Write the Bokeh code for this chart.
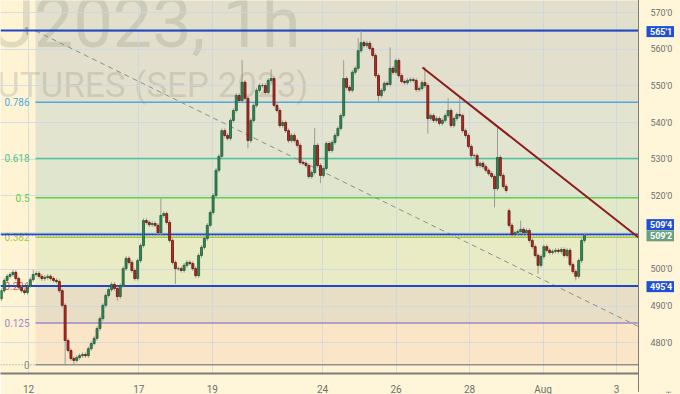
from bokeh.plotting import figure
from bokeh.models import Range1d, FixedTicker
from bokeh.embed import file_html
from bokeh.resources import INLINE
from bokeh.core.properties import value

# ---------------- data ----------------
day_ticks = [0, 3, 5, 8, 10, 12, 14, 16]
day_labels = ["12", "17", "19", "24", "26", "28", "Aug", "3"]

price_ticks = [480, 490, 500, 520, 530, 540, 550, 560, 570]
price_tick_labels = ["480'0", "490'0", "500'0", "520'0", "530'0", "540'0", "550'0", "560'0", "570'0"]
grid_prices = [480, 490, 500, 510, 520, 530, 540, 550, 560, 570]

closes = [
    494.2, 497.0, 498.1, 498.6, 499.2, 497.5, 495.1, 494.2, 493.7, 495.6,
    497.2, 498.6, 498.9, 498.1, 497.5, 497.8, 498.1, 497.5, 497.0, 496.7,
    494.2, 490.2, 480.6, 477.9, 475.7, 475.2, 476.0, 476.5, 476.8, 476.5,
    478.4, 479.8, 481.2, 483.9, 486.6, 490.2, 492.9, 494.5, 495.9, 494.8,
    492.6, 495.6, 500.2, 503.0, 501.9, 499.7, 497.5, 502.4, 506.5, 513.3,
    512.8, 512.2, 512.5, 512.0, 510.0, 514.7, 515.2, 512.8, 507.9, 501.9,
    500.2, 500.2, 499.7, 501.1, 501.9, 501.6, 500.2, 498.3, 503.8, 506.0,
    508.4, 512.0, 515.5, 520.1, 527.0, 530.8, 537.8, 536.5, 535.7, 540.6,
    543.3, 547.4, 546.0, 551.0, 546.6, 535.1, 540.6, 544.7, 548.8, 550.1,
    550.1, 548.2, 551.5, 552.0, 544.7, 543.3, 539.2, 540.0, 537.8, 535.1,
    536.5, 535.1, 533.8, 529.1, 528.9, 528.3, 525.3, 526.4, 533.8, 528.3,
    525.6, 527.5, 534.3, 532.4, 534.6, 536.5, 538.4, 541.9, 552.0, 549.6,
    548.8, 553.7, 554.8, 559.6, 561.8, 561.0, 561.6, 560.2, 558.3, 552.8,
    547.4, 548.8, 550.7, 550.4, 554.8, 553.7, 556.9, 552.8, 551.2, 550.9,
    551.5, 551.7, 551.5, 549.0, 549.3, 550.9, 550.1, 541.1, 541.9, 540.6,
    541.1, 539.8, 540.6, 541.9, 543.3, 539.2, 541.1, 542.2, 541.9, 537.8,
    536.5, 533.5, 531.0, 531.0, 528.3, 528.9, 528.0, 527.0, 526.1, 525.3,
    522.0, 530.5, 525.6, 522.6, 521.5, 512.0, 509.5, 510.0, 510.3, 510.9,
    510.0, 510.6, 507.9, 506.2, 503.8, 501.1, 503.5, 506.2, 505.2, 504.6,
    504.9, 505.2, 504.9, 505.4, 503.8, 505.2, 501.3, 499.4, 498.1, 502.4,
    507.9, 509.25,
]
first_open = 492.0
open_overrides = {175: 516.0}
high_spikes = {11: 499.9, 55: 519.3, 83: 557.0, 93: 554.5, 108: 538.5, 118: 557.0,
               123: 563.0, 124: 565.0, 134: 560.5, 146: 555.2, 154: 546.6, 158: 546.8,
               171: 538.7, 179: 513.3, 201: 510.0}
low_spikes = {22: 474.0, 25: 474.2, 40: 491.5, 60: 496.0, 85: 533.0, 110: 523.5,
              130: 545.5, 147: 537.0, 170: 516.9, 185: 498.8, 198: 497.0}

fib_low, fib_high = 474.0, 565.0
fib_levels = [0, 0.125, 0.236, 0.382, 0.5, 0.618, 0.786, 1]
fib_labels = ["0", "0.125", "0.236", "0.382", "0.5", "0.618", "0.786", "1"]
fib_line_colors = ["#8f8f8f", "#9c88c9", "#e0584e", "#a8c83c", "#5fcf4a", "#4fc48c", "#4fa9dd", "#8f8f8f"]
fib_band_colors = ["#fbe5c7", "#e8dec5", "#e9ebc4", "#e2e9c8", "#dfe6cd", "#e2e4d0", "#e2e0cc"]

hline_prices = [565.125, 509.5, 495.5]
hline_tags = ["565'1", "509'4", "495'4"]
last_price = 509.25
last_tag = "509'2"

trend_start = (0.19, 565.0)
trend_end = (18.72, 474.0)
resist_start = (10.72, 555.0)
resist_end = (16.6, 508.7)

watermark1 = "ZCU2023, 1h"
watermark2 = "CORN FUTURES (SEP 2023)"

FONT = value("Roboto")
AXIS_BG = "#fff5d8"
AXIS_TXT = "#707070"

# ---------------- figure ----------------
PX_PER_DAY = 36.75
def dx(px):            # horizontal screen pixel -> day units
    return (px - 28) / PX_PER_DAY

x0, x1 = dx(0), dx(680)
y0, y1 = 471.63, 573.27
scale_x = dx(638)      # position of the price scale separator
p = figure(frame_width=680, frame_height=373, x_range=Range1d(x0, x1), y_range=Range1d(y0, y1),
           output_backend="svg", toolbar_location=None,
           min_border_left=0, min_border_top=0, min_border_right=0, min_border_bottom=21,
           background_fill_color="#fef4d4", border_fill_color=AXIS_BG)
p.outline_line_color = None
p.yaxis.visible = False

# fib bands
band_left = trend_start[0]
levels_price = [fib_low + f * (fib_high - fib_low) for f in fib_levels]
for i in range(len(levels_price) - 1):
    r = p.quad(left=band_left, right=scale_x, bottom=levels_price[i], top=levels_price[i + 1],
               fill_color=fib_band_colors[i], line_color=None)
    r.level = "image"
r = p.quad(left=band_left, right=scale_x, bottom=fib_high, top=y1 + 5,
           fill_color=fib_band_colors[-1], line_color=None)
r.level = "image"

# watermark
wm = p.text(x=[dx(300)], y=[567.2], text=[watermark1], text_font=FONT, text_font_size="70px",
            text_color="#8c8a78", text_alpha=0.25, text_align="right", text_baseline="alphabetic")
wm.level = "image"
wm2 = p.text(x=[dx(308)], y=[550.2], text=[watermark2], text_font=FONT, text_font_size="35px",
             text_color="#8c8a78", text_alpha=0.25, text_align="right", text_baseline="alphabetic")
wm2.level = "image"

# grid
p.xgrid.ticker = FixedTicker(ticks=day_ticks)
p.ygrid.ticker = FixedTicker(ticks=grid_prices)
p.xgrid.grid_line_color = "#c9d6e6"
p.ygrid.grid_line_color = "#c9d6e6"
p.xgrid.grid_line_alpha = 0.75
p.ygrid.grid_line_alpha = 0.75

# fib lines & labels
for lv, lab, col in zip(levels_price, fib_labels, fib_line_colors):
    p.segment(x0=[band_left], y0=[lv], x1=[scale_x], y1=[lv], line_color=col, line_width=1.5)
    p.text(x=[dx(29)], y=[lv], text=[lab], text_color=col, text_font=FONT, text_font_size="10px",
           text_align="right", text_baseline="middle")
p.segment(x0=[x0], y0=[fib_low], x1=[band_left], y1=[fib_low], line_color="#8f8f8f",
          line_dash="1 2", line_width=1)

# dashed trend line of the fib
p.line(x=[trend_start[0], trend_end[0]], y=[trend_start[1], trend_end[1]],
       line_color="#8d8d8d", line_dash="5 4", line_width=1)

# horizontal blue lines
for hp in hline_prices:
    p.segment(x0=[x0], y0=[hp], x1=[scale_x], y1=[hp], line_color="#1f47c8", line_width=2)
p.segment(x0=[x0], y0=[last_price], x1=[scale_x], y1=[last_price], line_color="#dfe9e4",
          line_dash="1 2", line_width=1)

# candles
n = len(closes)
d_first, d_last = dx(0.8), dx(584)
step = (d_last - d_first) / (n - 1)
xs = [d_first + i * step for i in range(n)]
opens = [first_open] + closes[:-1]
for k, v in open_overrides.items():
    opens[k] = v
highs = [max(o, c) + 0.6 for o, c in zip(opens, closes)]
lows = [min(o, c) - 0.6 for o, c in zip(opens, closes)]
for k, v in high_spikes.items():
    highs[k] = v
for k, v in low_spikes.items():
    lows[k] = v

p.segment(x0=xs, y0=lows, x1=xs, y1=highs, line_color="#9b9b96", line_width=1)
up = [i for i in range(n) if closes[i] >= opens[i]]
dn = [i for i in range(n) if closes[i] < opens[i]]
bw = 2.0 / PX_PER_DAY
p.vbar(x=[xs[i] for i in up], width=bw, bottom=[opens[i] for i in up], top=[closes[i] for i in up],
       fill_color="#2f8a55", line_color="#1f5a38", line_width=0.8)
p.vbar(x=[xs[i] for i in dn], width=bw, bottom=[closes[i] for i in dn], top=[opens[i] for i in dn],
       fill_color="#c0281e", line_color="#5e1410", line_width=0.8)

# resistance trend line
p.line(x=[resist_start[0], resist_end[0]], y=[resist_start[1], resist_end[1]],
       line_color="#8e1b1b", line_width=2)

# ---- price scale (right) drawn on the same y scale ----
r = p.quad(left=scale_x, right=x1 + 1, bottom=y0 - 5, top=y1 + 5, fill_color=AXIS_BG, line_color=None)
r.level = "overlay"
r = p.segment(x0=[scale_x], y0=[y0 - 5], x1=[scale_x], y1=[y1 + 5], line_color="#7c7c78", line_width=1)
r.level = "overlay"
r = p.segment(x0=[x0], y0=[y0], x1=[scale_x], y1=[y0], line_color="#7c7c78", line_width=2)
r.level = "overlay"
r = p.text(x=[dx(650)] * len(price_ticks), y=price_ticks, text=price_tick_labels, text_font=FONT,
           text_font_size="9px", text_color=AXIS_TXT, text_align="left", text_baseline="middle")
r.level = "overlay"

tag_y = {"565'1": 564.8, "509'4": 512.2, "495'4": 495.3, "509'2": 509.15}
tag_h = 1.5
tags = [(t, "#1f4fd6") for t in hline_tags] + [(last_tag, "#6a9f80")]
for txt, col in tags:
    cy = tag_y[txt]
    r = p.quad(left=dx(646), right=dx(673.5), bottom=cy - tag_h, top=cy + tag_h,
               fill_color=col, line_color=None)
    r.level = "overlay"
    r = p.text(x=[dx(649.5)], y=[cy], text=[txt], text_font=FONT, text_font_size="9px",
               text_color="white", text_align="left", text_baseline="middle", text_font_style="bold")
    r.level = "overlay"

# ---- time axis (bottom) ----
gear_tick = dx(668)
xa = p.xaxis[0]
xa.ticker = FixedTicker(ticks=day_ticks + [gear_tick])
overrides = {t: l for t, l in zip(day_ticks, day_labels)}
overrides[gear_tick] = "\u2699"
xa.major_label_overrides = overrides
xa.major_tick_line_color = None
xa.minor_tick_line_color = None
xa.axis_line_color = None
xa.major_label_text_font_size = "10px"
xa.major_label_text_color = AXIS_TXT
xa.major_label_text_font = "Roboto"
xa.major_label_standoff = 4

open("out.html", "w").write(file_html(p, INLINE))
